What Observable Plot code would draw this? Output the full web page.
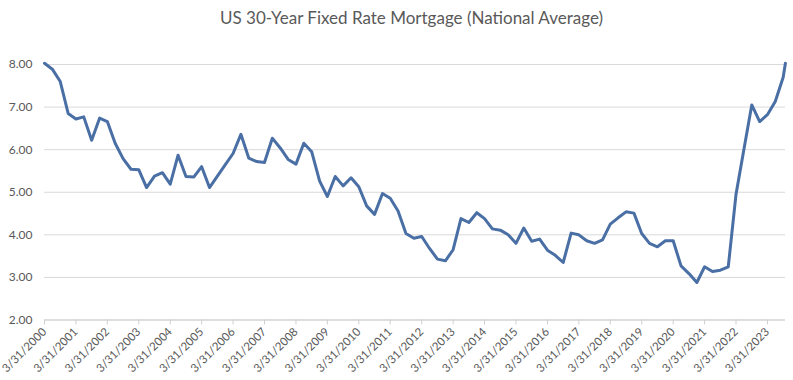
<!DOCTYPE html>
<html>
<head>
<meta charset="utf-8">
<script src="https://cdn.jsdelivr.net/npm/d3@7"></script>
<script src="https://cdn.jsdelivr.net/npm/@observablehq/plot@0.6"></script>
<style>
  body { margin: 0; background: #fff; }
  #title { height: 34px; width: 793px; text-align: center; font-family: Lato, "Open Sans", sans-serif; font-size: 17px; color: #595959; line-height: 35px; white-space: nowrap; transform: translateX(15px); }
  svg text { font-family: Lato, "Open Sans", sans-serif; }
</style>
</head>
<body>
<div id="title">US 30-Year Fixed Rate Mortgage (National Average)</div>
<div id="chart"></div>
<script>
// Quarterly observations (quarter-end dates) from 3/31/2000, plus a final reading
const startYear = 2000;
const rates = [
  8.03, 7.89, 7.60, 6.85, 6.72, 6.77, 6.22, 6.74, 6.66, 6.15,
  5.79, 5.54, 5.53, 5.11, 5.38, 5.46, 5.19, 5.87, 5.37, 5.36,
  5.60, 5.11, 5.38, 5.65, 5.91, 6.36, 5.80, 5.72, 5.70, 6.27,
  6.04, 5.77, 5.66, 6.15, 5.95, 5.26, 4.90, 5.37, 5.15, 5.34,
  5.13, 4.68, 4.48, 4.97, 4.86, 4.56, 4.03, 3.92, 3.96, 3.68,
  3.43, 3.39, 3.65, 4.38, 4.29, 4.52, 4.38, 4.14, 4.11, 4.00,
  3.80, 4.16, 3.85, 3.90, 3.64, 3.52, 3.35, 4.04, 4.00, 3.86,
  3.80, 3.88, 4.25, 4.40, 4.54, 4.51, 4.03, 3.80, 3.72, 3.86,
  3.86, 3.27, 3.09, 2.88, 3.25, 3.14, 3.17, 3.25, 4.95, 6.00,
  7.05, 6.66, 6.82, 7.13, 7.70
];
const lastDate = "2023-10-26";
const lastRate = 8.03;
const tickYears = d3.range(2000, 2024);

const qEnd = [[2, 31], [5, 30], [8, 30], [11, 31]];
const data = rates.map((v, i) => {
  const y = startYear + Math.floor(i / 4);
  const [m, d] = qEnd[i % 4];
  return { date: new Date(y, m, d), rate: v };
});
data.push({ date: new Date(lastDate + "T00:00:00"), rate: lastRate });

const ticks = tickYears.map(y => new Date(y, 2, 31));
const fmt = d => `${d.getMonth() + 1}/${d.getDate()}/${d.getFullYear()}`;

const chart = Plot.plot({
  width: 793,
  height: 346,
  marginTop: 30,
  marginBottom: 60.5,
  marginLeft: 44,
  marginRight: 8,
  style: { fontSize: "12px", color: "#595959", background: "#fff" },
  x: { type: "time", domain: [new Date(2000, 2, 31), new Date(2023, 9, 27)], label: null },
  y: { domain: [2, 8], label: null },
  marks: [
    Plot.gridY(d3.range(2, 9), { stroke: "#d9d9d9", strokeOpacity: 1, strokeWidth: 1 }),
    Plot.ruleY([2], { stroke: "#d0d0d0", strokeWidth: 1 }),
    Plot.axisX({ ticks: ticks, tickFormat: fmt, tickRotate: -45, tickSize: 5, tickPadding: 5, stroke: "#d0d0d0", fill: "#595959", fontSize: 11.5, label: null }),
    Plot.axisY({ ticks: d3.range(2, 9), tickFormat: d3.format(".2f"), tickSize: 0, tickPadding: 12, fill: "#595959", fontSize: 12, label: null }),
    Plot.line(data, { x: "date", y: "rate", stroke: "#4a6fa5", strokeWidth: 3, strokeLinejoin: "round", strokeLinecap: "round" })
  ]
});
document.getElementById("chart").appendChild(chart);
</script>
</body>
</html>
